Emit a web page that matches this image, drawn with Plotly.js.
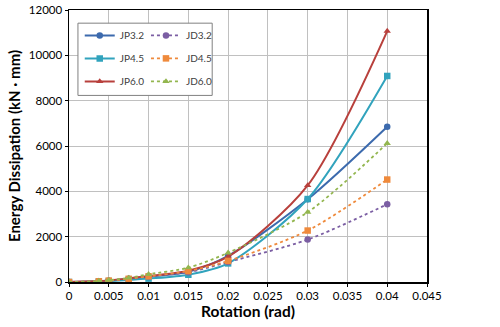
<!DOCTYPE html>
<html><head><meta charset="utf-8">
<script src="https://cdn.plot.ly/plotly-3.0.1.min.js"></script>
<style>html,body{margin:0;padding:0;background:#fff}#c{width:500px;height:327px}</style>
</head><body><div id="c"></div>
<script>
const rotation = [0, 0.00375, 0.005, 0.0075, 0.01, 0.015, 0.02, 0.03, 0.04];
const JP32 = [0, 30, 60, 130, 230, 450, 1150, 3650, 6850];
const JP45 = [0, 20, 40, 90, 150, 320, 820, 3660, 9090];
const JP60 = [0, 40, 70, 160, 260, 500, 1120, 4260, 11070];
const JD32 = [0, 30, 60, 140, 250, 430, 880, 1870, 3430];
const JD45 = [0, 30, 60, 140, 250, 480, 930, 2270, 4520];
const JD60 = [0, 40, 80, 180, 340, 630, 1290, 3080, 6120];
const seriesNames = ['JP3.2','JP4.5','JP6.0','JD3.2','JD4.5','JD6.0'];
const xTicks = [0,0.005,0.01,0.015,0.02,0.025,0.03,0.035,0.04,0.045];
const xTickText = ['0','0.005','0.01','0.015','0.02','0.025','0.03','0.035','0.04','0.045'];
const yTicks = [0,2000,4000,6000,8000,10000,12000];
const yTickText = ['0','2000','4000','6000','8000','10000','12000'];

const vals = [JP32, JP45, JP60, JD32, JD45, JD60];
const colors = ['#3c6aad','#31a3bd','#b8403c','#7b5ea3','#ef8a3c','#93b64f'];
const symbols = ['circle','square','triangle-up','circle','square','triangle-up'];
const traces = vals.map((v,i)=>({
  x: rotation, y: v, name: seriesNames[i], type:'scatter', mode:'lines+markers',
  line:{color:colors[i], width: i<3?2:1.8, dash: i<3?'solid':'dot', shape:'spline', smoothing:0.8},
  marker:{color:colors[i], symbol:symbols[i], size:6.5},
  legend: i<3?'legend':'legend2', legendgroup:'g'+i
}));
const legFont = {family:'Lato, "DejaVu Sans", sans-serif', size:10, color:'#404040'};
const layout = {
  width:500, height:327,
  margin:{l:69, r:73, t:10, b:45},
  paper_bgcolor:'#fff', plot_bgcolor:'#fff',
  font:{family:'Lato, "DejaVu Sans", sans-serif', size:11, color:'#000'},
  showlegend:true,
  legend:{x:0.03, y:0.96, xanchor:'left', yanchor:'top', bgcolor:'rgba(0,0,0,0)', borderwidth:0, font:legFont, tracegroupgap:4, itemwidth:30},
  legend2:{x:0.215, y:0.96, xanchor:'left', yanchor:'top', bgcolor:'rgba(0,0,0,0)', borderwidth:0, font:legFont, tracegroupgap:4, itemwidth:30},
  xaxis:{range:[0,0.045], tickvals:xTicks, ticktext:xTickText, showgrid:true, gridcolor:'#c0c0c0', gridwidth:1,
    zeroline:false, showline:true, linecolor:'#000', linewidth:1.5, mirror:true, ticks:'outside', ticklen:3, tickcolor:'#000',
    tickfont:{size:11.5}, title:{text:'<b>Rotation (rad)</b>', font:{size:15.5}, standoff:4}},
  yaxis:{range:[0,12000], tickvals:yTicks, ticktext:yTickText, showgrid:true, gridcolor:'#c0c0c0', gridwidth:1,
    zeroline:false, showline:true, linecolor:'#000', linewidth:1.5, mirror:true, ticks:'outside', ticklen:3, tickcolor:'#000',
    tickfont:{size:11.5}, title:{text:'<b>Energy Dissipation (kN · mm)</b>', font:{size:15}, standoff:4}},
  shapes:[{type:'rect', xref:'paper', yref:'paper', x0:0.025, x1:0.40, y0:0.686, y1:0.9516,
    fillcolor:'#fff', line:{color:'#808080', width:1}, layer:'above'}]
};
Plotly.newPlot('c', traces, layout, {staticPlot:true, displayModeBar:false});
</script></body></html>
